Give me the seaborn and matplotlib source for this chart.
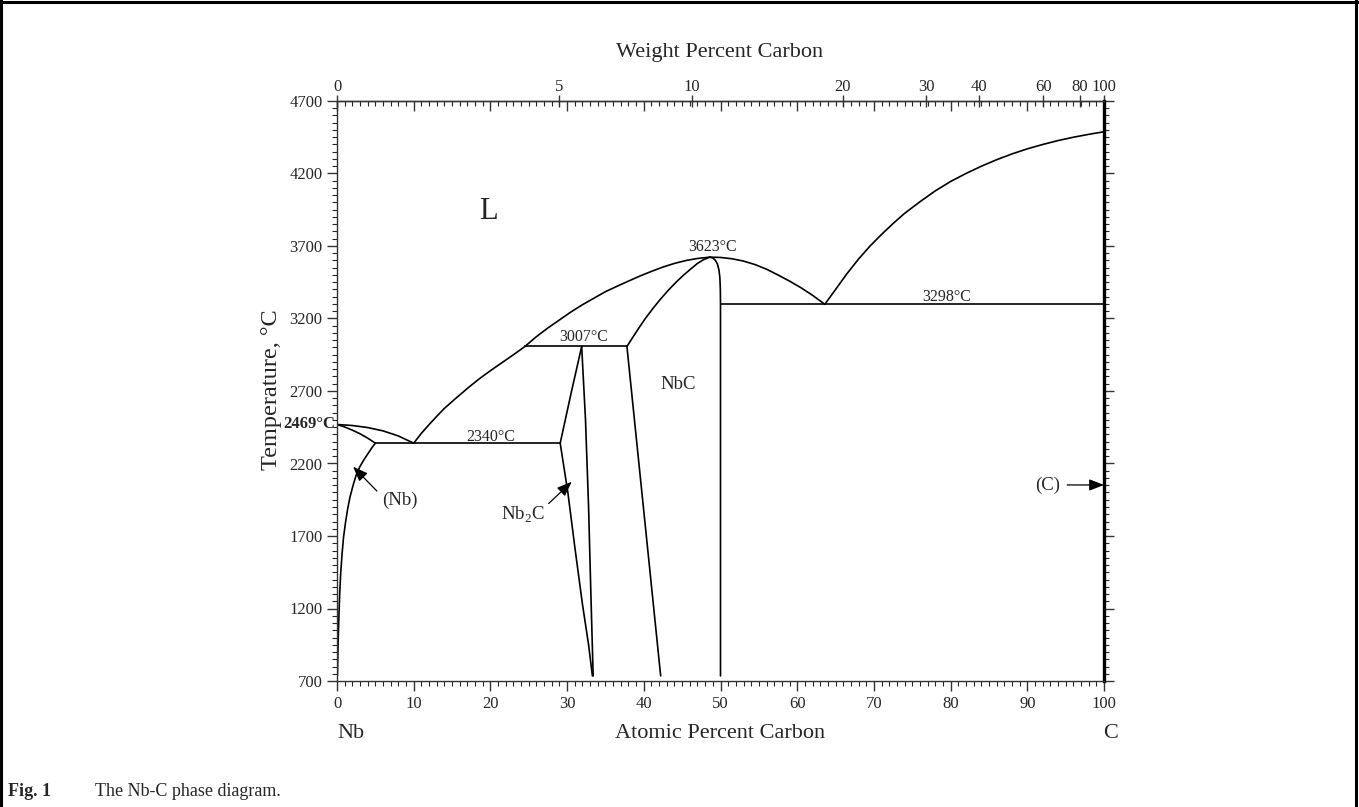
import numpy as np
import matplotlib.pyplot as plt
import seaborn as sns
from matplotlib.lines import Line2D

# ---- số liệu (x = at.% C, y = °C) ----
liq_nb_x = [0, 2, 4, 6, 8, 10]
liq_nb_y = [2469, 2462, 2448, 2425, 2390, 2340]
sol_nb_x = [0, 1, 2, 3, 4, 5]
sol_nb_y = [2469, 2452, 2430, 2405, 2375, 2340]
solvus_nb_x = [5, 4.5, 4.0, 3.5, 3.0, 2.5, 2.1, 1.7, 1.4, 1.1, 0.85, 0.65, 0.48, 0.35, 0.25, 0.16, 0.1, 0.06]
solvus_nb_y = [2340, 2305, 2265, 2225, 2180, 2120, 2050, 1970, 1890, 1790, 1690, 1570, 1440, 1300, 1150, 990, 860, 740]

liq1_x = [10, 11, 12, 13, 14, 15.5, 17, 18.5, 20, 21.5, 23, 24.5]
liq1_y = [2340, 2408, 2468, 2525, 2580, 2650, 2718, 2782, 2840, 2895, 2950, 3007]
liq2_x = [24.5, 26, 27.5, 29, 30.5, 32, 33.5, 35, 36.5, 38, 39.5, 41, 42.5, 44, 45.5, 47, 48.6]
liq2_y = [3007, 3075, 3135, 3190, 3245, 3295, 3340, 3385, 3422, 3458, 3493, 3525, 3555, 3580, 3600, 3614, 3623]
liq3_x = [48.6, 50, 51.5, 53, 54.5, 56, 57.5, 59, 60.5, 62, 63.6]
liq3_y = [3623, 3621, 3612, 3596, 3572, 3540, 3500, 3458, 3412, 3360, 3298]
liq_c_x = [63.6, 65, 66.5, 68, 69.5, 71, 72.5, 74, 76, 78, 80, 82, 84, 86, 88, 90, 92, 94, 96, 98, 100]
liq_c_y = [3298, 3400, 3510, 3610, 3700, 3780, 3855, 3925, 4005, 4080, 4145, 4200, 4250, 4295,
           4335, 4370, 4400, 4427, 4450, 4470, 4488]

nbc_sol_l_x = [37.8, 38.5, 39.3, 40.2, 41.2, 42.2, 43.2, 44.2, 45.2, 46.2, 47.0, 47.8, 48.6]
nbc_sol_l_y = [3007, 3065, 3130, 3200, 3270, 3335, 3395, 3450, 3500, 3545, 3580, 3606, 3623]
nbc_sol_r_x = [48.6, 49.0, 49.35, 49.6, 49.8, 49.92, 49.98, 50, 50]
nbc_sol_r_y = [3623, 3617, 3600, 3575, 3535, 3480, 3400, 3298, 735]
nbc_left_x = [37.8, 42.2]
nbc_left_y = [3007, 735]

nb2c_up_x = [29.1, 30.5, 31.9]
nb2c_up_y = [2340, 2680, 3007]
nb2c_right_x = [31.9, 32.4, 32.8, 33.1, 33.4]
nb2c_right_y = [3007, 2500, 1900, 1300, 735]
nb2c_low_x = [29.1, 30.1, 31.0, 32.0, 32.8, 33.3]
nb2c_low_y = [2340, 2000, 1626, 1230, 950, 735]

# các đường đẳng nhiệt
iso_T = [2340, 3007, 3298]
iso_x0 = [5, 24.5, 50]
iso_x1 = [29.1, 37.8, 100]
iso_labels = ["2340°C", "3007°C", "3298°C"]
iso_label_x = [20, 32.2, 79.5]
iso_label_y = [2385, 3072, 3347]

wt_ticks = [0, 5, 10, 20, 30, 40, 60, 80, 100]
y_ticks = list(range(700, 4701, 500))
x_ticks = list(range(0, 101, 10))

M_C, M_NB = 12.011, 92.906


def at2wt(a):
    a = np.clip(np.asarray(a, dtype=float), 0, 100)
    return 100 * M_C * a / (M_C * a + M_NB * (100 - a))


def wt2at(w):
    w = np.clip(np.asarray(w, dtype=float), 0, 100)
    return 100 * (w / M_C) / (w / M_C + (100 - w) / M_NB)


sns.set_style("ticks")
plt.rcParams['font.family'] = ['Liberation Serif', 'DejaVu Serif']
plt.rcParams['mathtext.fontset'] = 'custom'
plt.rcParams['mathtext.rm'] = 'Liberation Serif'
plt.rcParams['axes.linewidth'] = 1.0

fig = plt.figure(figsize=(13.59, 8.07), dpi=100)
ax = fig.add_axes([337 / 1359, 126 / 807, 767 / 1359, 580 / 807])

curves = [(liq_nb_x, liq_nb_y), (sol_nb_x, sol_nb_y), (solvus_nb_x, solvus_nb_y),
          (liq1_x, liq1_y), (liq2_x, liq2_y), (liq3_x, liq3_y), (liq_c_x, liq_c_y),
          (nbc_sol_l_x, nbc_sol_l_y), (nbc_sol_r_x, nbc_sol_r_y), (nbc_left_x, nbc_left_y),
          (nb2c_up_x, nb2c_up_y), (nb2c_right_x, nb2c_right_y), (nb2c_low_x, nb2c_low_y)]
for cx, cy in curves:
    sns.lineplot(x=cx, y=cy, sort=False, estimator=None, color='black', lw=1.2, ax=ax)

for T, x0, x1 in zip(iso_T, iso_x0, iso_x1):
    sns.lineplot(x=[x0, x1], y=[T, T], sort=False, estimator=None, color='black', lw=1.2, ax=ax)
for lab, lx, ly in zip(iso_labels, iso_label_x, iso_label_y):
    ax.text(lx, ly, lab, ha='center', va='center', fontsize=11.5)

ax.text(49.0, 3693, "3623°C", ha='center', va='center', fontsize=11.5)
ax.text(19.7, 3937, "L", ha='center', va='center', fontsize=22)
ax.text(44.5, 2745, "NbC", ha='center', va='center', fontsize=13.5)
ax.text(-0.3, 2469, "2469°C", ha='right', va='center', fontsize=12, fontweight='bold')

arrow = dict(arrowstyle='-|>,head_length=0.9,head_width=0.35', color='black', lw=0.9,
             shrinkA=0, shrinkB=0)
ax.text(8.2, 1948, "(Nb)", ha='center', va='center', fontsize=13.5)
ax.annotate('', xy=(2.1, 2178), xytext=(5.2, 2010), arrowprops=arrow)
ax.text(24.2, 1845, "Nb$_2$C", ha='center', va='center', fontsize=13.5)
ax.annotate('', xy=(30.6, 2074), xytext=(27.6, 1924), arrowprops=arrow)
ax.text(92.7, 2052, "(C)", ha='center', va='center', fontsize=13.5)
ax.annotate('', xy=(100, 2052), xytext=(95.2, 2052), arrowprops=arrow)

ax.set_xlim(0, 100)
ax.set_ylim(700, 4700)
ax.set_xticks(x_ticks)
ax.set_xticks(range(0, 101), minor=True)
ax.set_yticks(y_ticks)
ax.set_yticks(range(700, 4701, 50), minor=True)
ax.tick_params(axis='both', which='major', labelsize=12, color='#333333')
ax.tick_params(axis='x', which='major', direction='out', length=7, width=1.0, top=True)
ax.tick_params(axis='x', which='minor', direction='out', length=3.5, width=0.8, top=True)
ax.tick_params(axis='y', which='major', direction='out', length=7, width=1.0, right=True)
ax.tick_params(axis='y', which='minor', direction='out', length=3.5, width=0.8, right=True)
ax.tick_params(axis='x', which='both', labeltop=False)
ax.tick_params(axis='y', which='both', labelright=False)
# vạch ở trục trên hướng vào trong
for t in ax.xaxis.get_major_ticks() + ax.xaxis.get_minor_ticks():
    t.tick2line.set_marker(3)
for s in ax.spines.values():
    s.set_color('#333333')
ax.spines['right'].set_linewidth(2.4)
ax.spines['right'].set_color('black')
ax.set_xlabel('')
ax.set_ylabel('')

sec = ax.secondary_xaxis('top', functions=(at2wt, wt2at))
sec.set_xticks(wt_ticks)
sec.set_xticklabels([str(w) for w in wt_ticks])
sec.tick_params(direction='inout', length=9, width=1.0, labelsize=12, pad=0, color='#333333')
sec.spines['top'].set_color('#333333')

fig.text(720 / 1359, 1 - 53 / 807, "Weight Percent Carbon", ha='center', va='center', fontsize=16)
fig.text(272 / 1359, 1 - 390 / 807, "Temperature, °C", ha='center', va='center',
         fontsize=17.5, rotation=90)
fig.text(337 / 1359, 1 - 733 / 807, "Nb", ha='left', va='center', fontsize=16)
fig.text(720 / 1359, 1 - 733 / 807, "Atomic Percent Carbon", ha='center', va='center', fontsize=16)
fig.text(1111 / 1359, 1 - 733 / 807, "C", ha='center', va='center', fontsize=16)
fig.text(8 / 1359, 1 - 791 / 807, "Fig. 1", ha='left', va='center', fontsize=13, fontweight='bold')
fig.text(95 / 1359, 1 - 791 / 807, "The Nb-C phase diagram.", ha='left', va='center', fontsize=13)

# khung viền quanh hình
for xs, ys in [([0.001, 0.001], [0, 1]), ([0, 1], [0.998, 0.998]), ([0.998, 0.998], [0, 1])]:
    fig.add_artist(Line2D(xs, ys, transform=fig.transFigure, color='black', lw=2.2))

fig.savefig('out.png', dpi=100)
